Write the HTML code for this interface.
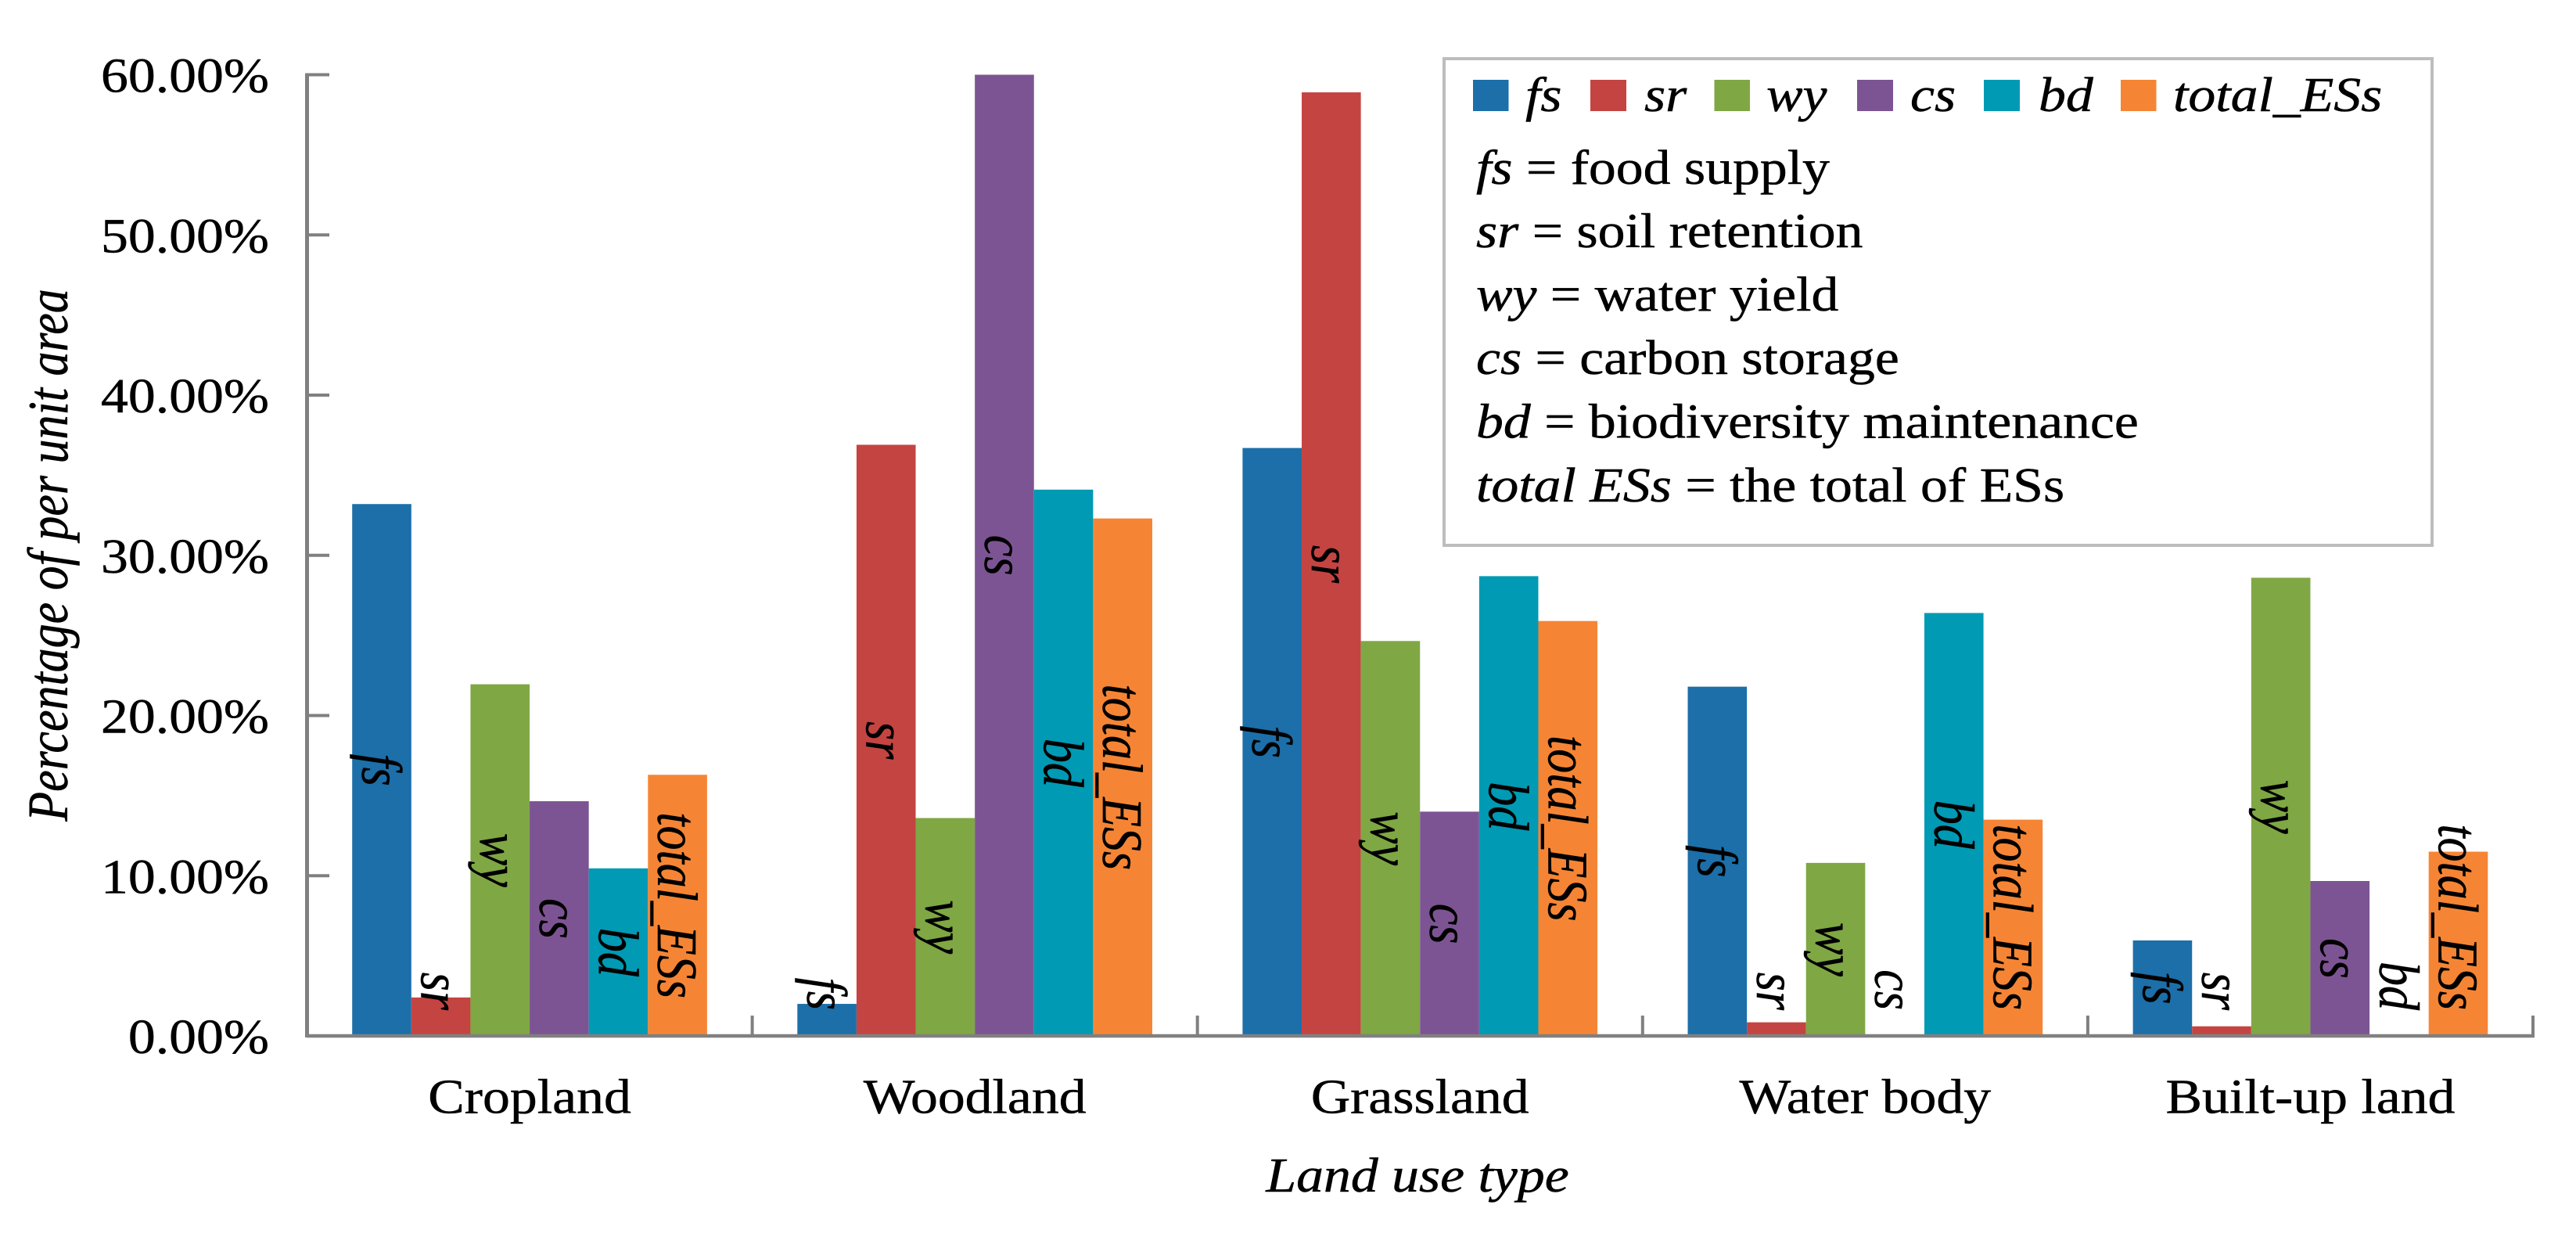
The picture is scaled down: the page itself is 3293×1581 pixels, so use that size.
<!DOCTYPE html>
<html lang="en">
<head>
<meta charset="utf-8">
<title>Percentage of per unit area by land use type</title>
<style>
  html, body { margin: 0; padding: 0; background: #fff; }
  svg { display: block; }
  text { font-family: "Liberation Serif", serif; font-size: 62px; fill: #000; stroke: #000; stroke-width: 0.5px; }
  .it { font-style: italic; }
</style>
</head>
<body>
<svg id="chart" xmlns="http://www.w3.org/2000/svg" width="3293" height="1581" viewBox="0 0 3293 1581">
  <rect x="0" y="0" width="3293" height="1581" fill="#ffffff"/>
  <g id="bars"></g>
  <g id="axes"></g>
  <g id="bar-labels"></g>

  <text class="it" text-anchor="middle" transform="translate(86,709.5) scale(1.18,1) rotate(-90)">Percentage of per unit area</text>
  <text class="it" text-anchor="middle" transform="translate(1812,1523) scale(1.125,1)">Land use type</text>

  <g>
    <rect x="1846" y="75" width="1263" height="622" fill="#ffffff" stroke="#bdbdbd" stroke-width="4"/>

    <g>
      <rect x="1883" y="102" width="45.5" height="40" fill="#1c6fa9"/>
      <text class="it" transform="translate(1950,142) scale(1.125,1)">fs</text>
    </g>
    <g>
      <rect x="2033" y="102" width="46" height="40" fill="#c44442"/>
      <text class="it" transform="translate(2102,142) scale(1.125,1)">sr</text>
    </g>
    <g>
      <rect x="2191.5" y="102" width="45.5" height="40" fill="#7fa744"/>
      <text class="it" transform="translate(2258,142) scale(1.125,1)">wy</text>
    </g>
    <g>
      <rect x="2374" y="102" width="46" height="40" fill="#7d5493"/>
      <text class="it" transform="translate(2442,142) scale(1.125,1)">cs</text>
    </g>
    <g>
      <rect x="2536" y="102" width="46" height="40" fill="#009ab4"/>
      <text class="it" transform="translate(2606,142) scale(1.125,1)">bd</text>
    </g>
    <g>
      <rect x="2711" y="102" width="45.5" height="40" fill="#f58534"/>
      <text class="it" transform="translate(2778,142) scale(1.125,1)">total_ESs</text>
    </g>

    <text transform="translate(1887,235) scale(1.125,1)"><tspan class="it">fs</tspan> = food supply</text>
    <text transform="translate(1887,316) scale(1.125,1)"><tspan class="it">sr</tspan> = soil retention</text>
    <text transform="translate(1887,397) scale(1.125,1)"><tspan class="it">wy</tspan> = water yield</text>
    <text transform="translate(1887,478) scale(1.125,1)"><tspan class="it">cs</tspan> = carbon storage</text>
    <text transform="translate(1887,559.5) scale(1.125,1)"><tspan class="it">bd</tspan> = biodiversity maintenance</text>
    <text transform="translate(1887,641) scale(1.125,1)"><tspan class="it">total ESs</tspan> = the total of ESs</text>
  </g>
</svg>

<script>
const categories = ['Cropland', 'Woodland', 'Grassland', 'Water body', 'Built-up land'];
const seriesKeys = ['fs', 'sr', 'wy', 'cs', 'bd', 'total_ESs'];
const seriesColors = ['#1c6fa9', '#c44442', '#7fa744', '#7d5493', '#009ab4', '#f58534'];
const fs = [33.2, 2.0, 36.7, 21.8, 5.96];
const sr = [2.4, 36.9, 58.9, 0.85, 0.6];
const wy = [21.95, 13.6, 24.65, 10.8, 28.6];
const cs = [14.65, 60.0, 14.0, 0, 9.67];
const bd = [10.46, 34.1, 28.7, 26.4, 0];
const totalESs = [16.3, 32.3, 25.9, 13.5, 11.5];
const yTickValues = [0, 10, 20, 30, 40, 50, 60];
const yTickLabels = ['0.00%', '10.00%', '20.00%', '30.00%', '40.00%', '50.00%', '60.00%'];

const SVG_NS = 'http://www.w3.org/2000/svg';
const plotLeft = 392.5;
const plotRight = 3238;
const plotBottom = 1324;
const plotTop = 95.5;
const yMax = 60;
const textScaleX = 1.125;
const rotatedLabelScaleX = 1.18;
const axisColor = '#808080';
const allSeries = [fs, sr, wy, cs, bd, totalESs];

function yScale(value) {
  return plotBottom - (value / yMax) * (plotBottom - plotTop);
}
function bandWidth() {
  return (plotRight - plotLeft) / categories.length;
}
function barWidth() {
  return bandWidth() * 0.7972 / seriesKeys.length;
}
function xScale(categoryIndex, seriesIndex) {
  const groupWidth = barWidth() * seriesKeys.length;
  return plotLeft + categoryIndex * bandWidth() + (bandWidth() - groupWidth) / 2 + seriesIndex * barWidth();
}
function make(tag, parent) {
  const el = document.createElementNS(SVG_NS, tag);
  parent.appendChild(el);
  return el;
}

const barsGroup = document.getElementById('bars');
const axesGroup = document.getElementById('axes');
const labelsGroup = document.getElementById('bar-labels');

/* bars and rotated series labels */
categories.forEach(function (category, c) {
  seriesKeys.forEach(function (key, s) {
    const value = allSeries[s][c];
    const top = yScale(value);
    const x = xScale(c, s);

    const bar = make('rect', barsGroup);
    
    
    bar.setAttribute('x', x);
    bar.setAttribute('y', top);
    bar.setAttribute('width', barWidth());
    bar.setAttribute('height', plotBottom - top);
    bar.setAttribute('fill', seriesColors[s]);

    const label = make('text', labelsGroup);
    
    
    label.setAttribute('class', 'it');
    label.setAttribute('text-anchor', 'middle');
    label.textContent = key;
    const length = label.getComputedTextLength();
    const middle = (top + plotBottom) / 2;
    const centerY = Math.min(middle, 1291 - length / 2);
    const baselineX = x + barWidth() / 2 - 25;
    label.setAttribute('transform', 'translate(' + baselineX + ',' + centerY + ') scale(' + rotatedLabelScaleX + ',1) rotate(90)');
  });
});

/* y axis */
const yAxisLine = make('line', axesGroup);


yAxisLine.setAttribute('x1', plotLeft);
yAxisLine.setAttribute('x2', plotLeft);
yAxisLine.setAttribute('y1', plotTop - 2);
yAxisLine.setAttribute('y2', plotBottom + 2);
yAxisLine.setAttribute('stroke', axisColor);
yAxisLine.setAttribute('stroke-width', '5');

yTickValues.forEach(function (value, i) {
  const y = yScale(value);
  const tick = make('line', axesGroup);
  
  
  tick.setAttribute('x1', plotLeft);
  tick.setAttribute('x2', plotLeft + 28.5);
  tick.setAttribute('y1', y);
  tick.setAttribute('y2', y);
  tick.setAttribute('stroke', axisColor);
  tick.setAttribute('stroke-width', '4');

  const label = make('text', axesGroup);
  
  
  label.setAttribute('text-anchor', 'end');
  label.setAttribute('transform', 'translate(344,' + (y + 22) + ') scale(' + textScaleX + ',1)');
  label.textContent = yTickLabels[i];
});

/* x axis */
const xAxisLine = make('line', axesGroup);


xAxisLine.setAttribute('x1', plotLeft);
xAxisLine.setAttribute('x2', plotRight + 2);
xAxisLine.setAttribute('y1', plotBottom);
xAxisLine.setAttribute('y2', plotBottom);
xAxisLine.setAttribute('stroke', axisColor);
xAxisLine.setAttribute('stroke-width', '4.5');

categories.forEach(function (category, c) {
  const tickX = plotLeft + (c + 1) * bandWidth();
  const tick = make('line', axesGroup);
  
  
  tick.setAttribute('x1', tickX);
  tick.setAttribute('x2', tickX);
  tick.setAttribute('y1', plotBottom - 26);
  tick.setAttribute('y2', plotBottom);
  tick.setAttribute('stroke', axisColor);
  tick.setAttribute('stroke-width', '4');

  const label = make('text', axesGroup);
  
  
  label.setAttribute('text-anchor', 'middle');
  label.setAttribute('transform', 'translate(' + (tickX - bandWidth() / 2) + ',1422.5) scale(' + textScaleX + ',1)');
  label.textContent = category;
});
</script>
</body>
</html>
